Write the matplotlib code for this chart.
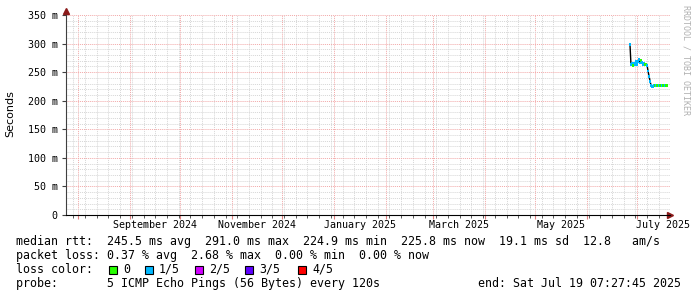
import matplotlib
matplotlib.use("Agg")
import matplotlib.pyplot as plt
import matplotlib.dates as mdates
from matplotlib.ticker import MultipleLocator, FixedLocator, FixedFormatter
from matplotlib.patches import Rectangle
import pandas as pd

# time window of the graph and month labels
x_start = pd.Timestamp("2024-07-24 16:00")
x_end = pd.Timestamp("2025-07-20 16:00")
month_labels = ["September 2024", "November 2024", "January 2025",
                "March 2025", "May 2025", "July 2025"]
month_label_starts = ["2024-09-01", "2024-11-01", "2025-01-01",
                      "2025-03-01", "2025-05-01", "2025-07-01"]
month_label_ends = ["2024-10-01", "2024-12-01", "2025-02-01",
                    "2025-04-01", "2025-06-01", "2025-08-01"]

y_ticks = [0, 50, 100, 150, 200, 250, 300, 350]
y_tick_labels = ["0", "50 m", "100 m", "150 m", "200 m", "250 m", "300 m", "350 m"]

# median rtt (ms) per consolidated step, and loss index per step
sample_start = pd.Timestamp("2025-06-26 18:00")
median_ms = [298, 263, 266, 262, 266, 263, 268, 264, 269, 272, 266, 270,
             267, 264, 266, 263, 264, 262, 252, 243, 234, 227, 224, 225,
             226, 226, 227, 226, 226, 227, 226, 226, 227, 226, 226, 227, 226]
loss_idx = [1, 1, 1, 0, 1, 1, 1, 1, 1, 1, 1, 0,
            1, 1, 1, 0, 0, 1, 1, 1, 1, 1, 1, 1,
            1, 0, 1, 0, 0, 1, 0, 0, 1, 0, 0, 1, 0]
times = pd.date_range(sample_start, periods=len(median_ms), freq="14h24min")

loss_names = ["0", "1/5", "2/5", "3/5", "4/5"]
loss_colors = ["#26ff00", "#00b8ff", "#d000ff", "#5e00ff", "#ff0000"]

W, H = 697, 297
fig = plt.figure(figsize=(W / 100, H / 100), dpi=100)
fig.patch.set_facecolor("white")


def fx(px):
    return px / W


def fy(py):
    return 1 - py / H


mono = "DejaVu Sans Mono"
ax = fig.add_axes([fx(66), fy(215), fx(670) - fx(66), fy(15) - fy(215)])
ax.set_xlim(x_start, x_end)
ax.set_ylim(0, 350)

# grid
ax.xaxis.set_major_locator(mdates.MonthLocator())
ax.xaxis.set_minor_locator(mdates.WeekdayLocator(byweekday=mdates.MO))
ax.xaxis.set_major_formatter(plt.NullFormatter())
ax.yaxis.set_major_locator(FixedLocator(y_ticks))
ax.yaxis.set_major_formatter(FixedFormatter(y_tick_labels))
ax.yaxis.set_minor_locator(MultipleLocator(10))
ax.grid(which="minor", color="#d6d6d6", linestyle=(0, (1, 1)), lw=0.7)
ax.grid(which="major", color="#f2a8a8", linestyle=(0, (1, 1)), lw=0.7)
ax.set_axisbelow(True)

for s in ["top", "right"]:
    ax.spines[s].set_visible(False)
ax.spines["left"].set_color("#404040")
ax.spines["bottom"].set_color("black")
ax.tick_params(axis="x", which="major", length=3, color="#e08080", direction="out")
ax.tick_params(axis="x", which="minor", length=2, color="#404040", direction="out")
ax.tick_params(axis="y", which="major", length=3, color="#404040", direction="out",
               labelsize=7.2, pad=3)
ax.tick_params(axis="y", which="minor", length=0)
for lab in ax.get_yticklabels():
    lab.set_family(mono)

# arrows at axis ends
ax.plot(1.0, 0, marker=">", color="#8b1a1a", ms=4, transform=ax.transAxes, clip_on=False)
ax.plot(0, 1.02, marker="^", color="#8b1a1a", ms=4, transform=ax.transAxes, clip_on=False)

# month labels centered in their month
for lab, a, b in zip(month_labels, month_label_starts, month_label_ends):
    mid = pd.Timestamp(a) + (pd.Timestamp(b) - pd.Timestamp(a)) / 2
    ax.text(mid, -0.05, lab, transform=ax.get_xaxis_transform(), ha="center", va="center",
            fontsize=7.2, family=mono, clip_on=False)

# median rtt line with loss colour
ax.plot(times, median_ms, color="black", lw=1, zorder=3)
ax.scatter(times, median_ms, c=[loss_colors[i] for i in loss_idx], marker="s", s=4,
           lw=0, zorder=4)

fig.text(fx(10), fy(114), "Seconds", rotation=90, ha="center", va="center", fontsize=8)
fig.text(fx(686), fy(5), "RRDTOOL / TOBI OETIKER", rotation=270, ha="center", va="top",
         fontsize=6, family=mono, color="#b0b0b0")

fs = 8.4
fig.text(fx(16), fy(241.5),
         "median rtt:  245.5 ms avg  291.0 ms max  224.9 ms min  225.8 ms now  19.1 ms sd  12.8   am/s",
         fontsize=fs, family=mono, va="center")
fig.text(fx(16), fy(255.5),
         "packet loss: 0.37 % avg  2.68 % max  0.00 % min  0.00 % now",
         fontsize=fs, family=mono, va="center")
fig.text(fx(16), fy(269.5), "loss color:", fontsize=fs, family=mono, va="center")
box_x = [109, 145, 195, 245, 298]
for name, col, bx in zip(loss_names, loss_colors, box_x):
    fig.patches.append(Rectangle((fx(bx), fy(273.5)), fx(8), fy(0) - fy(8), facecolor=col,
                                 edgecolor="black", lw=0.8, transform=fig.transFigure))
    fig.text(fx(bx + 14), fy(269.5), name, fontsize=fs, family=mono, va="center")
fig.text(fx(16), fy(283.5), "probe:       5 ICMP Echo Pings (56 Bytes) every 120s",
         fontsize=fs, family=mono, va="center")
fig.text(fx(478), fy(283.5), "end: Sat Jul 19 07:27:45 2025",
         fontsize=fs, family=mono, va="center")

fig.savefig("out.png", dpi=100, facecolor="white")
